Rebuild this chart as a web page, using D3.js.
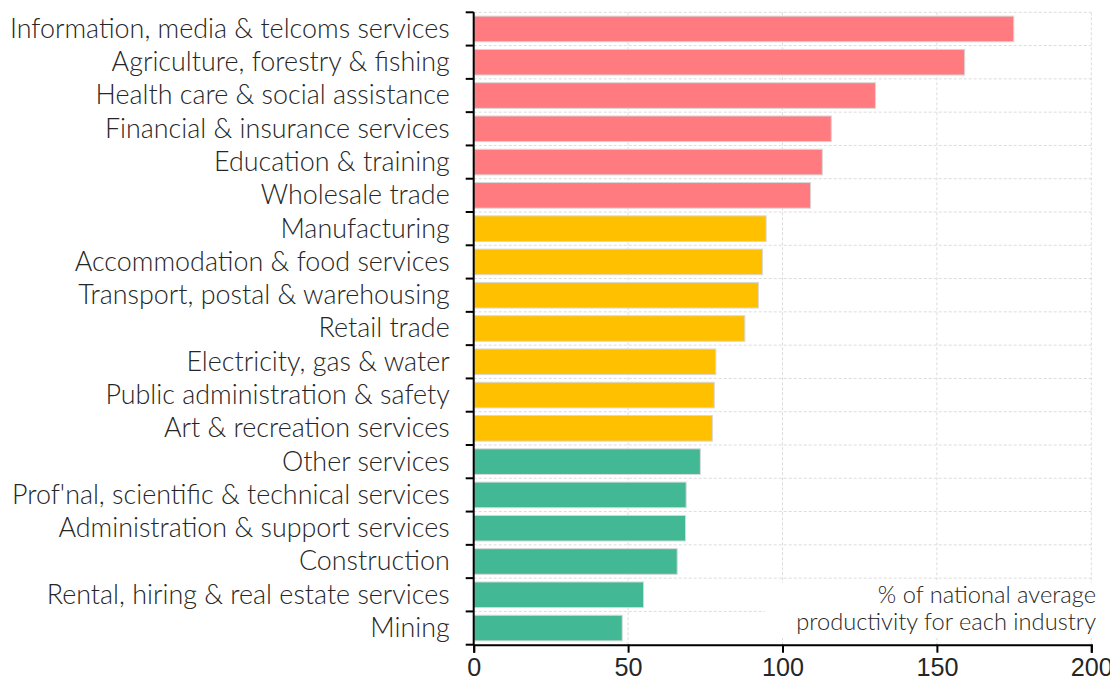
<!DOCTYPE html>
<html><head><meta charset="utf-8">
<script src="https://cdn.jsdelivr.net/npm/d3@7"></script>
<style>
html,body{margin:0;padding:0;background:#fff;}
svg{display:block;font-family:"Lato","Noto Sans",sans-serif;font-weight:300;}
</style></head>
<body><svg id="c" width="1110" height="684"></svg>
<script>
const categories = ["Information, media & telcoms services","Agriculture, forestry & fishing","Health care & social assistance","Financial & insurance services","Education & training","Wholesale trade","Manufacturing","Accommodation & food services","Transport, postal & warehousing","Retail trade","Electricity, gas & water","Public administration & safety","Art & recreation services","Other services","Prof'nal, scientific & technical services","Administration & support services","Construction","Rental, hiring & real estate services","Mining"];
const values = [174.9,159.0,130.1,115.8,112.9,109.1,94.7,93.5,92.2,87.8,78.4,77.9,77.3,73.4,68.8,68.6,65.9,55.0,48.1];
const groups = ["high","high","high","high","high","high","mid","mid","mid","mid","mid","mid","mid","low","low","low","low","low","low"];
const xTicks = [0,50,100,150,200];
const noteLines = ["% of national average","productivity for each industry"];
const groupColors = {high:"#FF7B80", mid:"#FFC000", low:"#43B894"};

const svg = d3.select("#c");
const W=1110,H=684;
const m={left:473.7,right:18.7,top:12.3,bottom:39.3};
const x = d3.scaleLinear().domain([0,200]).range([m.left,W-m.right]);
const y = d3.scaleBand().domain(categories).range([m.top,H-m.bottom]).padding(0);
const bh = y.bandwidth()*0.77;
const textColor="#262626";

// grid
const grid = svg.append("g");
const bounds = categories.map(c=>y(c)).concat([H-m.bottom]);
grid.selectAll("line.h").data(bounds.slice(0,-1)).join("line")
  .attr("x1",x(0)).attr("x2",x(200)).attr("y1",d=>d).attr("y2",d=>d)
  .attr("stroke","#dcdcdc").attr("stroke-dasharray","3,2").attr("stroke-width",1);
grid.selectAll("line.v").data(xTicks.slice(1)).join("line")
  .attr("x1",d=>x(d)).attr("x2",d=>x(d)).attr("y1",m.top).attr("y2",H-m.bottom)
  .attr("stroke","#dcdcdc").attr("stroke-dasharray","3,2").attr("stroke-width",1);

// annotation background
const noteG = svg.append("g");
const noteBg = noteG.append("rect").attr("fill","#fff");

// bars
svg.append("g").selectAll("rect").data(categories).join("rect")
  .attr("x",x(0)).attr("y",d=>y(d)+(y.bandwidth()-bh)/2)
  .attr("width",(d,i)=>x(values[i])-x(0)).attr("height",bh)
  .attr("fill",(d,i)=>groupColors[groups[i]])
  .attr("stroke","#d8d8d8").attr("stroke-width",1);

// y axis
const ya = svg.append("g");
ya.append("line").attr("x1",x(0)).attr("x2",x(0)).attr("y1",m.top).attr("y2",H-m.bottom)
  .attr("stroke","#000").attr("stroke-width",2);
ya.selectAll("line.t").data(bounds).join("line")
  .attr("x1",x(0)-8).attr("x2",x(0)).attr("y1",d=>d).attr("y2",d=>d)
  .attr("stroke","#000").attr("stroke-width",2);
const labels = ya.selectAll("text").data(categories).join("text")
  .attr("x",x(0)-24).attr("y",d=>y(d)+y.bandwidth()/2).attr("dy","0.33em")
  .attr("text-anchor","end").attr("fill",textColor).style("font-size","22px").text(d=>d);
let maxW = d3.max(labels.nodes(),n=>n.getComputedTextLength());
const fs = 22*440/maxW;
labels.style("font-size",fs+"px");

// x axis
const xa = svg.append("g").attr("transform",`translate(0,${H-m.bottom})`)
  .call(d3.axisBottom(x).tickValues(xTicks).tickSize(8).tickPadding(5).tickFormat(d3.format("d")));
xa.select(".domain").attr("stroke","#000").attr("stroke-width",2);
xa.selectAll(".tick line").attr("stroke","#000").attr("stroke-width",2);
const tt = xa.selectAll(".tick text").attr("fill",textColor).style("font-size","22px").style("font-family","inherit");
const w200 = tt.filter(d=>d===200).node().getComputedTextLength();
tt.style("font-size",(22*42/w200)+"px");

// annotation
const nt = noteG.selectAll("text").data(noteLines).join("text")
  .attr("x",1096).attr("y",(d,i)=>603+i*27).attr("text-anchor","end")
  .attr("fill",textColor).style("font-size","22px").text(d=>d);
const wn = nt.filter((d,i)=>i===1).node().getComputedTextLength();
nt.style("font-size",(22*300/wn)+"px");
noteBg.attr("x",765).attr("y",583).attr("width",1100-765).attr("height",55);
</script></body></html>
